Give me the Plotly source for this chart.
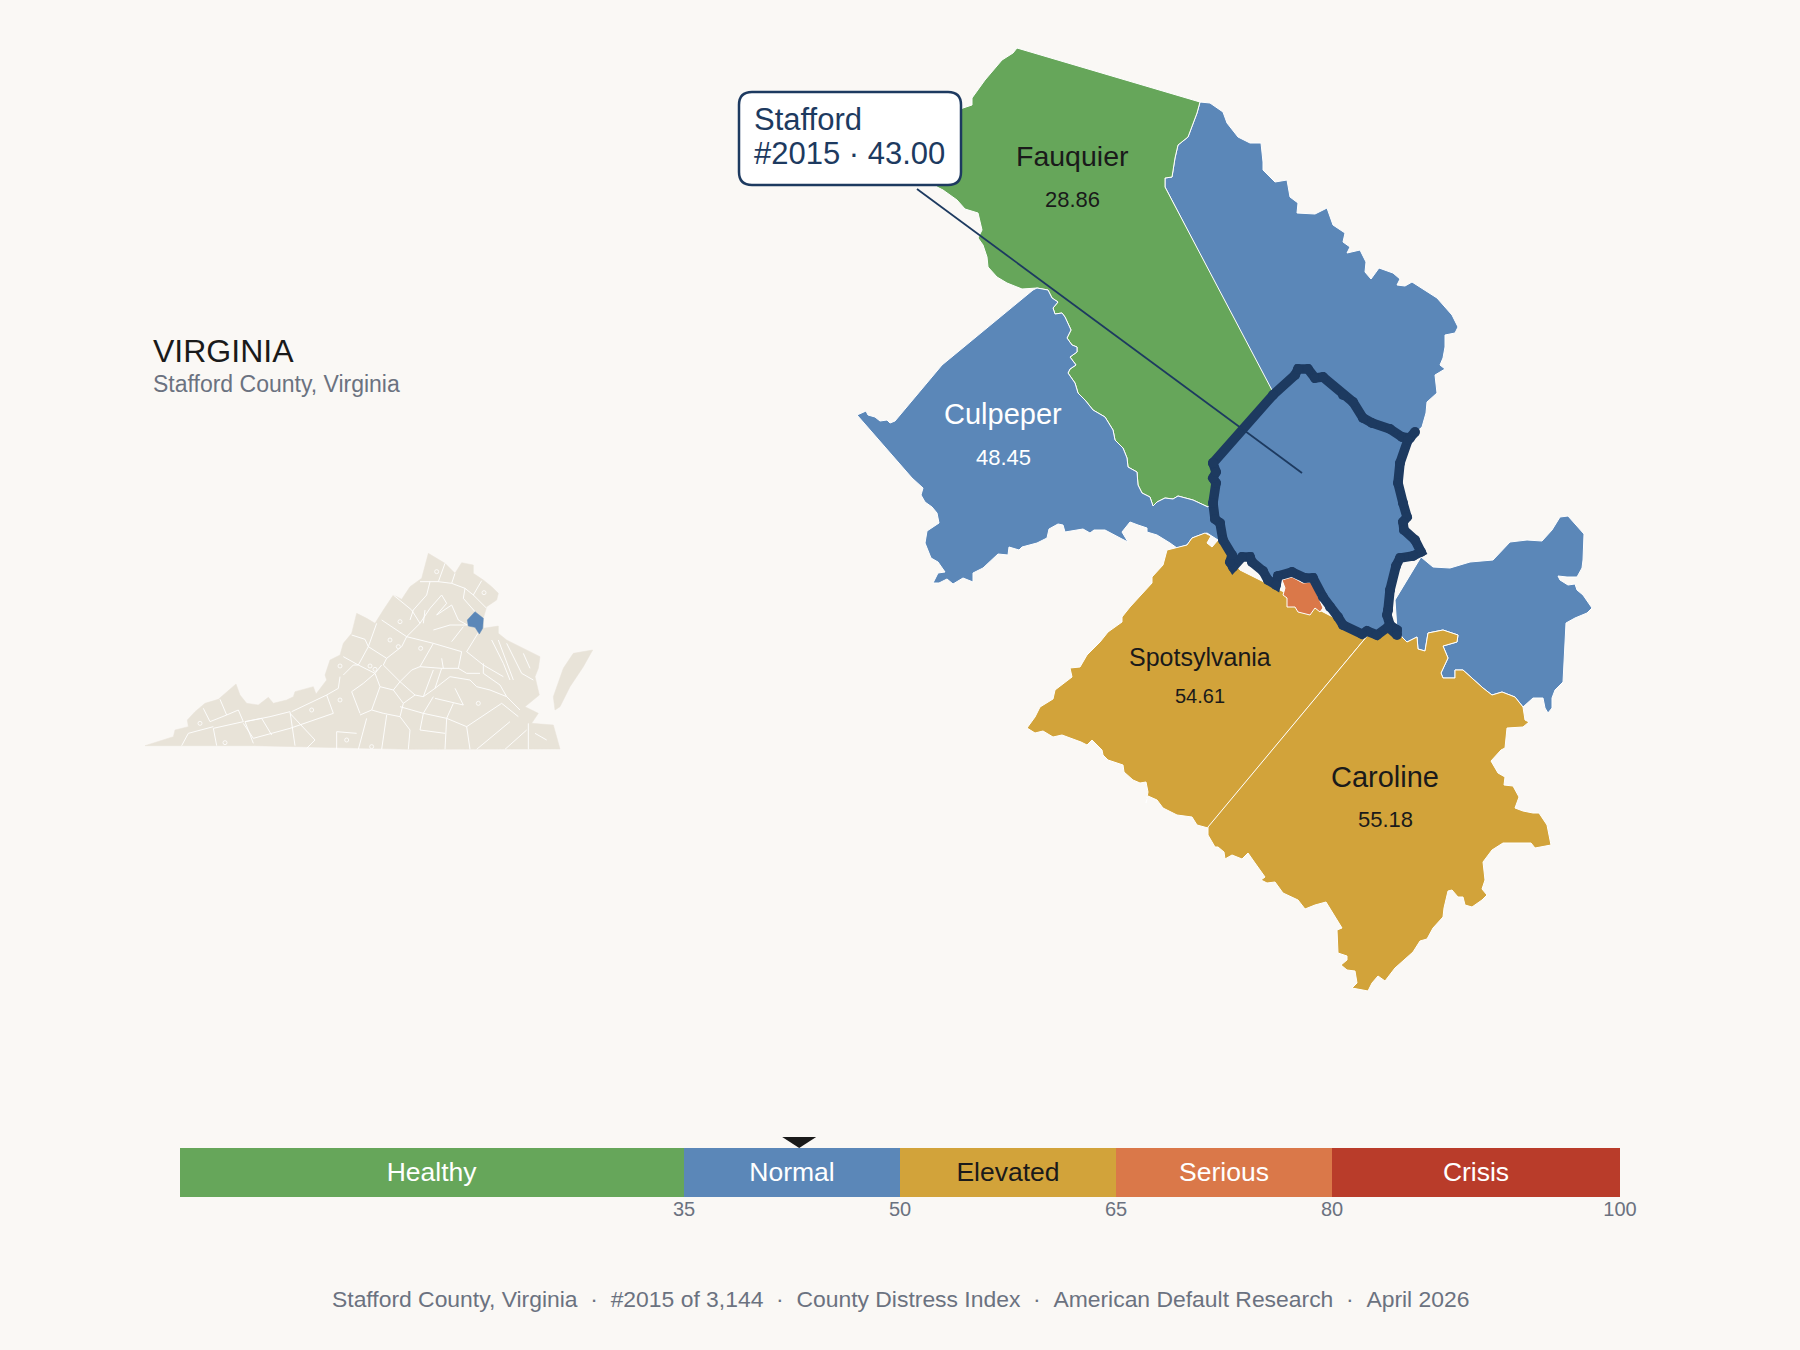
import plotly.graph_objects as go

BG = "#faf8f5"
GREEN = "#66a65a"
BLUE = "#5b87b8"
GOLD = "#d2a33a"
ORANGE = "#da7849"
RED = "#b93c2a"
NAVY = "#1d3a60"
BEIGE = "#e8e3d8"
GRAY = "#6b7280"
INK = "#1a1a1a"
FONT = "Liberation Sans"

# gauge
band_labels = ["Healthy", "Normal", "Elevated", "Serious", "Crisis"]
band_start = [0, 35, 50, 65, 80]
band_width = [35, 15, 15, 15, 20]
band_colors = [GREEN, BLUE, GOLD, ORANGE, RED]
band_text_colors = ["white", "white", INK, "white", "white"]
gauge_ticks = [35, 50, 65, 80, 100]
county_score = 43.0

# county labels: name, value, map position
county_names = ["Fauquier", "Culpeper", "Spotsylvania", "Caroline"]
county_values = ["28.86", "48.45", "54.61", "55.18"]
label_x = [1072, 1003, 1200, 1385]
name_y = [156, 414, 657, 777]
value_y = [199, 457, 696, 819]
name_sizes = [28.5, 29, 25, 29]
value_sizes = [22, 22, 20, 22]
label_colors = [INK, "white", INK, INK]

# county outlines, in map units
fauquier_west = [(1037, 288), (1022, 289), (1007, 283), (997, 277), (988, 267), (987, 257), (983, 245), (978, 238),
                 (982, 230), (978, 213), (965, 209), (957, 200), (943, 190), (937, 187), (925, 170), (950, 115),
                 (963, 108), (972, 105), (972, 98), (985, 80), (1002, 60), (1013, 53), (1017, 48)]
fauquier_east = [(1200, 102), (1197, 113), (1188, 137), (1178, 145), (1175, 158), (1172, 177), (1165, 178), (1165, 187),
                 (1273, 392), (1240, 430), (1217, 460), (1210, 507)]
# shared Fauquier / Culpeper line, south to north
shared_line = [(1208, 507), (1193, 500), (1178, 496), (1173, 499), (1165, 498), (1157, 502), (1153, 506), (1150, 497),
               (1142, 493), (1138, 485), (1137, 472), (1128, 467), (1127, 458), (1123, 448), (1115, 440), (1113, 430),
               (1105, 417), (1093, 410), (1085, 400), (1078, 393), (1075, 383), (1068, 373), (1070, 369), (1076, 365),
               (1070, 357), (1077, 352), (1077, 347), (1072, 345), (1067, 338), (1071, 330), (1065, 317), (1062, 313),
               (1055, 314), (1053, 308), (1058, 302), (1052, 298), (1048, 290), (1037, 288)]
north_blue = [(1200, 102), (1210, 103), (1223, 112), (1227, 123), (1238, 137), (1250, 143), (1261, 143), (1263, 162),
              (1263, 170), (1268, 175), (1275, 182), (1287, 180), (1290, 197), (1298, 203), (1297, 213), (1315, 214),
              (1327, 208), (1333, 225), (1345, 233), (1343, 242), (1350, 247), (1347, 253), (1360, 250), (1366, 262),
              (1365, 272), (1371, 279), (1379, 268), (1393, 273), (1400, 279), (1397, 285), (1405, 286), (1412, 282),
              (1437, 298), (1452, 315), (1458, 327), (1455, 333), (1445, 335), (1445, 347), (1443, 358), (1440, 365),
              (1445, 369), (1435, 375), (1437, 393), (1427, 402), (1426, 413), (1422, 427), (1413, 435), (1340, 440),
              (1273, 395), (1165, 187), (1165, 178), (1172, 177), (1175, 158), (1178, 145), (1188, 137), (1197, 113)]
culpeper_rest = [(1033, 290), (942, 365), (895, 421), (890, 423), (887, 420), (880, 421), (875, 417), (868, 415),
                 (866, 411), (857, 415), (912, 478), (923, 488), (921, 495), (925, 502), (932, 507), (937, 513),
                 (939, 523), (927, 531), (925, 543), (931, 558), (938, 562), (945, 572), (938, 573), (933, 583),
                 (939, 583), (947, 579), (953, 584), (963, 578), (973, 582), (973, 573), (983, 568), (998, 554),
                 (1008, 555), (1009, 547), (1019, 550), (1022, 547), (1037, 543), (1047, 538), (1049, 529), (1058, 524),
                 (1063, 525), (1065, 532), (1083, 529), (1090, 533), (1094, 530), (1105, 530), (1122, 539), (1128, 542),
                 (1122, 532), (1130, 522), (1138, 525), (1147, 528), (1147, 532), (1157, 535), (1170, 543), (1177, 548),
                 (1187, 545), (1192, 538), (1200, 535), (1207, 533), (1218, 540), (1235, 540), (1215, 500)]
king_george = [(1421, 557), (1433, 567), (1450, 568), (1470, 562), (1493, 560), (1503, 550), (1510, 542), (1527, 540),
               (1542, 541), (1552, 530), (1560, 517), (1568, 516), (1584, 534), (1583, 560), (1582, 568), (1577, 577),
               (1567, 577), (1558, 576), (1560, 580), (1568, 585), (1575, 584), (1577, 590), (1583, 595), (1592, 608),
               (1587, 613), (1575, 618), (1566, 623), (1563, 682), (1555, 690), (1552, 698), (1552, 708), (1548, 713),
               (1545, 708), (1543, 698), (1533, 698), (1523, 707), (1515, 697), (1502, 692), (1492, 695), (1483, 688),
               (1463, 670), (1455, 670), (1455, 678), (1443, 678), (1441, 673), (1448, 658), (1443, 646), (1457, 642),
               (1458, 635), (1443, 630), (1428, 633), (1425, 651), (1418, 649), (1417, 637), (1407, 642), (1402, 637),
               (1397, 630), (1395, 600)]
spotsylvania = [(1218, 540), (1240, 570), (1290, 595), (1368, 635), (1208, 828), (1197, 825), (1192, 817), (1177, 815),
                (1163, 808), (1157, 800), (1148, 796), (1146, 803), (1148, 792), (1146, 782), (1140, 783), (1133, 780),
                (1124, 772), (1123, 765), (1108, 760), (1103, 755), (1102, 750), (1092, 740), (1087, 745), (1081, 742),
                (1062, 735), (1053, 737), (1043, 731), (1035, 733), (1027, 728), (1035, 717), (1040, 707), (1053, 699),
                (1055, 690), (1072, 677), (1070, 668), (1080, 667), (1087, 655), (1100, 642), (1108, 632), (1122, 622),
                (1122, 617), (1130, 607), (1152, 583), (1152, 577), (1163, 565), (1167, 550), (1175, 548), (1187, 545),
                (1192, 538), (1205, 533), (1211, 536), (1207, 543), (1212, 547)]
caroline = [(1368, 635), (1397, 630), (1402, 637), (1407, 642), (1417, 637), (1418, 649), (1425, 651), (1428, 633),
            (1443, 630), (1458, 635), (1457, 642), (1443, 646), (1448, 658), (1441, 673), (1443, 678), (1455, 678),
            (1455, 670), (1463, 670), (1483, 688), (1492, 695), (1502, 692), (1515, 697), (1523, 707), (1525, 720),
            (1529, 722), (1523, 727), (1507, 728), (1506, 740), (1505, 748), (1501, 750), (1491, 761), (1498, 773),
            (1505, 777), (1504, 785), (1513, 786), (1519, 797), (1515, 808), (1523, 811), (1533, 813), (1539, 813),
            (1547, 825), (1551, 845), (1540, 847), (1535, 848), (1531, 843), (1503, 843), (1492, 850), (1483, 862),
            (1485, 880), (1482, 889), (1487, 895), (1482, 900), (1472, 907), (1465, 905), (1463, 897), (1458, 897),
            (1452, 890), (1448, 891), (1444, 908), (1443, 917), (1433, 928), (1427, 939), (1420, 941), (1413, 952),
            (1395, 968), (1385, 981), (1378, 976), (1372, 983), (1368, 991), (1352, 988), (1357, 983), (1355, 971),
            (1347, 970), (1341, 965), (1347, 960), (1347, 956), (1338, 953), (1337, 930), (1342, 928), (1335, 917),
            (1326, 902), (1315, 905), (1305, 909), (1298, 900), (1283, 893), (1275, 882), (1267, 883), (1261, 880),
            (1265, 877), (1255, 863), (1248, 853), (1242, 859), (1232, 855), (1225, 859), (1224, 852), (1218, 847),
            (1215, 847), (1208, 835), (1208, 827)]
fredericksburg = [(1282, 580), (1292, 577), (1303, 583), (1312, 582), (1323, 608), (1320, 612), (1315, 608), (1310, 615),
                  (1298, 612), (1295, 607), (1287, 607), (1287, 598), (1283, 595), (1285, 588)]
stafford = [(1213, 463), (1273, 395), (1295, 375), (1298, 369), (1308, 369), (1315, 378), (1323, 377), (1343, 395),
            (1353, 402), (1363, 418), (1372, 423), (1390, 429), (1402, 437), (1410, 438), (1415, 432), (1408, 440),
            (1400, 463), (1398, 483), (1403, 503), (1407, 517), (1403, 522), (1404, 530), (1415, 540), (1421, 552),
            (1413, 556), (1400, 558), (1396, 566), (1390, 590), (1388, 610), (1387, 615), (1390, 625), (1397, 630),
            (1397, 635), (1388, 627), (1377, 635), (1367, 631), (1362, 634), (1343, 625), (1338, 617), (1330, 607),
            (1323, 597), (1313, 578), (1305, 578), (1292, 572), (1278, 576), (1276, 585), (1268, 580), (1263, 571),
            (1252, 562), (1250, 557), (1242, 557), (1233, 567), (1230, 562), (1232, 555), (1223, 540), (1220, 523),
            (1215, 519), (1213, 503), (1216, 483), (1213, 478), (1216, 472), (1213, 463)]
callout_line = [(917, 189), (1302, 473)]

# locator map of the state, in its own units
state_outline = [(45, 617), (130, 590), (135, 570), (175, 560), (172, 540), (195, 515), (225, 490), (265, 478), (318, 432),
                 (330, 465), (350, 490), (385, 495), (415, 472), (430, 490), (470, 480), (490, 470), (495, 455), (550, 440),
                 (558, 462), (590, 420), (585, 405), (600, 360), (630, 345), (640, 310), (665, 280), (680, 220), (710, 235),
                 (735, 250), (760, 210), (790, 165), (815, 178), (840, 140), (875, 115), (895, 40), (945, 70), (975, 100),
                 (995, 68), (1030, 75), (1030, 100), (1060, 120), (1085, 140), (1105, 160), (1100, 180), (1070, 200),
                 (1060, 235), (1060, 265), (1105, 258), (1105, 280), (1130, 300), (1180, 325), (1230, 350), (1225, 385),
                 (1215, 410), (1228, 465), (1185, 500), (1205, 510), (1225, 520), (1205, 550), (1270, 555), (1290, 627),
                 (1050, 628), (840, 628), (370, 617)]
eastern_shore = [(1388, 330), (1330, 340), (1300, 385), (1285, 425), (1270, 470), (1275, 510), (1290, 500), (1320, 440),
                 (1360, 380)]
stafford_small = [(1035, 215), (1060, 235), (1058, 265), (1048, 282), (1035, 262), (1015, 258), (1012, 240)]
state_county_lines = [
    [(870, 125), (925, 125), (965, 130), (1005, 145), (1030, 165), (1070, 205)], [(945, 70), (925, 125)],
    [(975, 100), (965, 130)], [(1055, 122), (1030, 165)], [(1005, 145), (1000, 175), (1035, 215)],
    [(900, 125), (890, 165), (850, 210), (840, 240)], [(790, 165), (845, 210), (870, 250)],
    [(755, 240), (830, 290), (870, 250), (900, 205), (935, 165), (950, 190), (920, 225), (965, 195), (985, 240), (1012, 255)],
    [(880, 250), (885, 210)], [(830, 290), (815, 320), (770, 355), (715, 320), (740, 250)],
    [(665, 285), (705, 298), (715, 320), (685, 375), (640, 350)], [(830, 290), (910, 310), (870, 380)],
    [(910, 310), (995, 335), (985, 385)], [(910, 270), (960, 255), (1012, 255)], [(965, 305), (1000, 260)],
    [(1010, 335), (1050, 270)], [(1010, 335), (1060, 375), (1120, 410)], [(870, 380), (935, 385), (985, 385), (1010, 400), (1050, 400)],
    [(935, 355), (940, 385)], [(770, 355), (760, 375), (810, 425), (845, 390), (870, 380)],
    [(685, 375), (735, 400), (755, 375)], [(640, 405), (670, 375), (685, 375)],
    [(630, 410), (625, 445), (590, 465), (610, 520)], [(700, 430), (735, 400), (750, 440), (790, 450), (810, 425)],
    [(700, 430), (665, 455), (690, 520)], [(750, 440), (725, 510), (690, 525)],
    [(790, 450), (820, 490), (855, 465), (810, 425)], [(855, 465), (880, 470), (910, 390)],
    [(880, 470), (915, 445), (935, 385)], [(915, 445), (960, 410), (1020, 420)], [(915, 475), (1000, 495), (975, 445)],
    [(810, 500), (880, 520), (910, 470)], [(820, 490), (810, 530), (840, 570), (835, 628)],
    [(880, 520), (870, 570), (945, 580)], [(950, 535), (945, 628)], [(880, 520), (950, 535), (1010, 560), (1020, 628)],
    [(1010, 560), (1115, 490)], [(950, 535), (970, 490)], [(725, 510), (760, 520), (810, 530)], [(710, 535), (685, 628)],
    [(770, 525), (755, 628)], [(610, 520), (480, 565), (370, 595), (340, 550)], [(620, 575), (680, 580)], [(620, 575), (620, 628)],
    [(345, 545), (395, 535), (425, 585)], [(345, 545), (370, 610)], [(480, 515), (420, 530), (345, 545)],
    [(480, 515), (495, 617)], [(480, 520), (555, 600), (530, 625)], [(485, 515), (590, 465)],
    [(325, 510), (340, 545), (250, 565), (260, 617)], [(325, 510), (290, 525), (270, 478)],
    [(220, 505), (240, 545), (290, 525)], [(250, 560), (175, 580), (155, 617)], [(1040, 628), (1140, 545)],
    [(1125, 628), (1190, 570)], [(1195, 550), (1195, 628)], [(1250, 600), (1215, 580)],
    [(1085, 300), (1120, 370), (1140, 420)], [(1105, 300), (1135, 380), (1150, 420)], [(1130, 310), (1175, 400), (1210, 420)],
    [(1180, 340), (1200, 385)], [(1060, 370), (1060, 400), (1110, 435), (1130, 470)],
    [(1020, 420), (1040, 440), (1080, 450), (1130, 470), (1170, 510)], [(1115, 490), (1165, 530)],
]
city_x = [810, 780, 805, 872, 630, 720, 735, 210, 920, 1062, 285, 650, 725, 1045, 630, 545]
city_y = [245, 300, 320, 325, 378, 378, 388, 550, 95, 158, 608, 600, 620, 490, 480, 510]

footer = "\u00a0\u00a0·\u00a0\u00a0".join(["Stafford County, Virginia", "#2015 of 3,144", "County Distress Index",
                                       "American Default Research", "April 2026"])


def add_region(fig, points, color, line_color="white", line_width=1.0, axes=("x", "y")):
    xs = [p[0] for p in points] + [points[0][0]]
    ys = [p[1] for p in points] + [points[0][1]]
    fig.add_trace(go.Scatter(x=xs, y=ys, mode="lines", fill="toself", fillcolor=color,
                             line=dict(color=line_color, width=line_width),
                             hoverinfo="skip", showlegend=False, xaxis=axes[0], yaxis=axes[1]))


fig = go.Figure()

add_region(fig, north_blue, BLUE)
add_region(fig, fauquier_west + fauquier_east + shared_line, GREEN)
add_region(fig, culpeper_rest + shared_line, BLUE)
add_region(fig, king_george, BLUE)
add_region(fig, spotsylvania, GOLD)
add_region(fig, caroline, GOLD)
add_region(fig, fredericksburg, ORANGE)
add_region(fig, stafford, BLUE, line_color=NAVY, line_width=9.5)
# dots on the vertices so the thick outline gets round joins
fig.add_trace(go.Scatter(x=[p[0] for p in stafford], y=[p[1] for p in stafford], mode="markers",
                         marker=dict(color=NAVY, size=10, line=dict(width=0)), hoverinfo="skip", showlegend=False))

fig.add_trace(go.Scatter(x=[p[0] for p in callout_line], y=[p[1] for p in callout_line], mode="lines",
                         line=dict(color=NAVY, width=1.8), hoverinfo="skip", showlegend=False))

# locator
locator = ("x3", "y3")
add_region(fig, state_outline, BEIGE, line_color=BEIGE, line_width=0.5, axes=locator)
add_region(fig, eastern_shore, BEIGE, line_color=BEIGE, line_width=0.5, axes=locator)
line_x, line_y = [], []
for seg in state_county_lines:
    line_x += [p[0] for p in seg] + [None]
    line_y += [p[1] for p in seg] + [None]
fig.add_trace(go.Scatter(x=line_x, y=line_y, mode="lines", line=dict(color="white", width=0.9),
                         hoverinfo="skip", showlegend=False, xaxis="x3", yaxis="y3"))
fig.add_trace(go.Scatter(x=city_x, y=city_y, mode="markers",
                         marker=dict(symbol="circle", size=4, color=BEIGE, line=dict(color="white", width=0.8)),
                         hoverinfo="skip", showlegend=False, xaxis="x3", yaxis="y3"))
add_region(fig, stafford_small, BLUE, line_color=BLUE, line_width=0.5, axes=locator)

# gauge
fig.add_trace(go.Bar(y=[0.5] * len(band_labels), x=band_width, base=band_start, orientation="h", width=1,
                     marker=dict(color=band_colors, line=dict(width=0)), text=band_labels,
                     textposition="inside", insidetextanchor="middle", constraintext="none",
                     textfont=dict(family=FONT, size=26.5, color=band_text_colors), textangle=0,
                     hoverinfo="skip", showlegend=False, xaxis="x2", yaxis="y2"))
fig.add_trace(go.Scatter(x=[county_score - 1.18, county_score + 1.18, county_score, county_score - 1.18],
                         y=[1.224, 1.224, 1.0, 1.224], mode="lines", fill="toself", fillcolor=INK,
                         line=dict(color=INK, width=0), hoverinfo="skip", showlegend=False,
                         xaxis="x2", yaxis="y2"))

annotations = []
for name, val, x, ny, vy, ns, vs, c in zip(county_names, county_values, label_x, name_y, value_y,
                                           name_sizes, value_sizes, label_colors):
    annotations.append(dict(x=x, y=ny, xref="x", yref="y", text=name, showarrow=False,
                            font=dict(family=FONT, size=ns, color=c)))
    annotations.append(dict(x=x, y=vy, xref="x", yref="y", text=val, showarrow=False,
                            font=dict(family=FONT, size=vs, color=c)))

annotations += [
    dict(x=752, y=119, xref="x", yref="y", text="Stafford", showarrow=False, xanchor="left",
         font=dict(family=FONT, size=31, color=NAVY)),
    dict(x=752, y=153, xref="x", yref="y", text="#2015 · 43.00", showarrow=False, xanchor="left",
         font=dict(family=FONT, size=31, color=NAVY)),
    dict(x=151, y=351, xref="x", yref="y", text="VIRGINIA", showarrow=False, xanchor="left",
         font=dict(family=FONT, size=32, color=INK)),
    dict(x=151, y=384, xref="x", yref="y", text="Stafford County, Virginia", showarrow=False, xanchor="left",
         font=dict(family=FONT, size=23, color=GRAY)),
    dict(x=900, y=1299, xref="x", yref="y", text=footer, showarrow=False,
         font=dict(family=FONT, size=22.9, color=GRAY)),
]

hidden = dict(visible=False, fixedrange=True)
fig.update_layout(
    width=1800, height=1350, autosize=False, margin=dict(l=0, r=0, t=0, b=0, autoexpand=False),
    paper_bgcolor=BG, plot_bgcolor=BG, showlegend=False, hovermode=False, barmode="overlay",
    font=dict(family=FONT),
    xaxis=dict(hidden, domain=[0, 1], range=[0, 1800]),
    yaxis=dict(hidden, domain=[0, 1], range=[1350, 0]),
    xaxis2=dict(domain=[0.1, 0.9], range=[0, 100], anchor="y2", tickvals=gauge_ticks, ticks="",
                showgrid=False, zeroline=False, showline=False, fixedrange=True, ticklabelstandoff=-2,
                tickfont=dict(family=FONT, size=20, color=GRAY)),
    yaxis2=dict(hidden, domain=[1 - 1197 / 1350, 1 - 1137 / 1350], range=[0, 1.224], anchor="x2"),
    xaxis3=dict(hidden, domain=[130 / 1800, 610 / 1800], range=[0, 1440], anchor="y3"),
    yaxis3=dict(hidden, domain=[1 - 760 / 1350, 1 - 540 / 1350], range=[660, 0], anchor="x3"),
    annotations=annotations,
    shapes=[dict(type="path", xref="x", yref="y", layer="above", fillcolor="white",
                 line=dict(color=NAVY, width=2.5),
                 path="M 752,92 L 948,92 Q 961,92 961,105 L 961,172 Q 961,185 948,185 "
                      "L 752,185 Q 739,185 739,172 L 739,105 Q 739,92 752,92 Z")],
)

fig.write_html("out.html", config={"displayModeBar": False}, default_width="1800px", default_height="1350px",
               post_script="document.documentElement.style.overflow='hidden';document.body.style.margin='0';"
                           "document.body.style.background='%s';" % BG)
